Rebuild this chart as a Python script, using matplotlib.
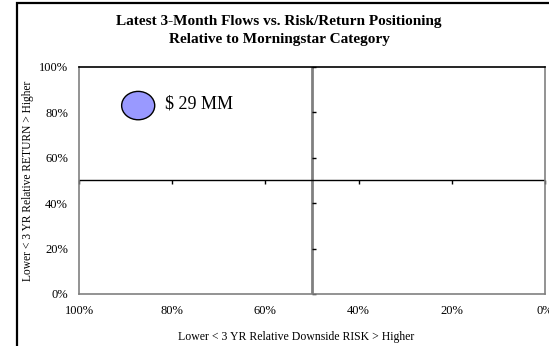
import matplotlib
matplotlib.use("Agg")
import matplotlib.pyplot as plt
from matplotlib.patches import Ellipse, Rectangle
import numpy as np

plt.rcParams['font.family'] = ['Liberation Serif', 'DejaVu Serif']

# fund position vs. category (percent) and 3-month flows ($ MM)
risk_pct = [87.3]
return_pct = [83.0]
flows_mm = [29]
flow_labels = ["$ 29 MM"]

x_ticks = [100, 80, 60, 40, 20, 0]
y_ticks = [0, 20, 40, 60, 80, 100]

fig = plt.figure(figsize=(5.49, 3.46), dpi=100)
ax = fig.add_axes([0.1439, 0.1503, 0.8488, 0.6561])

# outer chart frame (runs off the right/bottom edge)
fig.patches.append(Rectangle((17 / 549, -0.05), 1.2, 1 - 3 / 346 + 0.05,
                             transform=fig.transFigure, fill=False,
                             edgecolor='black', linewidth=1.6, zorder=0))

ax.set_xlim(100, 0)
ax.set_ylim(0, 100)
ax.set_xticks(x_ticks)
ax.set_yticks(y_ticks)
ax.set_xticklabels([f"{t}%" for t in x_ticks])
ax.set_yticklabels([f"{t}%" for t in y_ticks])
ax.tick_params(length=0, labelsize=9)
ax.tick_params(axis='x', pad=8)
ax.tick_params(axis='y', pad=8)

for side in ['left', 'bottom', 'right']:
    ax.spines[side].set_color('#808080')
    ax.spines[side].set_linewidth(1.2)
ax.spines['top'].set_color('black')
ax.spines['top'].set_linewidth(1.2)

# quadrant dividers with their tick marks
ax.axvline(50, color='#808080', linewidth=2, zorder=1)
ax.axhline(50, color='black', linewidth=1, zorder=1)
ax.plot(x_ticks, [50] * len(x_ticks), linestyle='none', marker=3,
        markersize=3, color='black', markeredgewidth=1, clip_on=False)
ax.plot([50] * len(y_ticks), y_ticks, linestyle='none', marker=1,
        markersize=3, color='black', markeredgewidth=1, clip_on=False)

# bubble size scales with flow volume
for x, y, f, lab in zip(risk_pct, return_pct, flows_mm, flow_labels):
    scale = np.sqrt(f / 29)
    ax.add_patch(Ellipse((x, y), 7.1 * scale, 12.5 * scale,
                         facecolor='#9999FF', edgecolor='black',
                         linewidth=1, zorder=3))
    ax.text(x - 5.8 * scale, y + 0.5, lab, fontsize=13, va='center', ha='left')

fig.text(279 / 549, 1 - 22 / 346, "Latest 3-Month Flows vs. Risk/Return Positioning",
         ha='center', va='center', fontsize=11, fontweight='bold')
fig.text(279 / 549, 1 - 40 / 346, "Relative to Morningstar Category",
         ha='center', va='center', fontsize=11, fontweight='bold')

ax.set_xlabel("Lower < 3 YR Relative Downside RISK > Higher", fontsize=8.5)
ax.xaxis.set_label_coords(0.466, -0.165)
ax.set_ylabel("Lower < 3 YR Relative RETURN > Higher", fontsize=8.3)
ax.yaxis.set_label_coords(-0.096, 0.5)

fig.savefig("out.png", dpi=100)
